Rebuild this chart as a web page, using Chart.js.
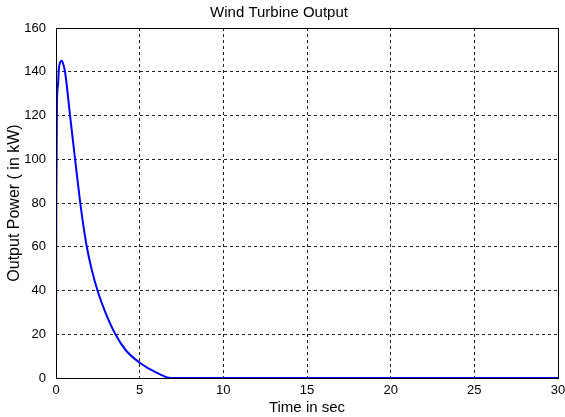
<!DOCTYPE html>
<html>
<head>
<meta charset="utf-8">
<title>Wind Turbine Output</title>
<script src="https://cdn.jsdelivr.net/npm/chart.js@4.4.1/dist/chart.umd.min.js"></script>
<style>
    html, body { margin: 0; padding: 0; background: #fff; }
    canvas { display: block; }
</style>
</head>
<body>
<canvas id="turbineChart" width="565" height="417"></canvas>
<script>
// turbine response after start-up, time in seconds vs. power in kW
const time  = [0, 0.02, 0.06, 0.12, 0.18, 0.34, 0.45, 0.54, 0.84, 1.14, 1.45, 1.63, 1.84, 2.12, 2.48, 2.95, 3.55, 4.16, 5.0, 6.07, 6.87, 30];
const power = [0, 82, 126, 134, 142, 145, 143, 140, 120, 100, 80, 70, 60, 50, 40, 30, 20, 12.8, 7, 2.2, 0, 0];

const xTicks = [0, 5, 10, 15, 20, 25, 30];
const yTicks = [0, 20, 40, 60, 80, 100, 120, 140, 160];

const FONT = 'Liberation Sans, Arial, Helvetica, sans-serif';

// interior grid only, the frame is drawn by boxPlugin
const gridColor = (ctx) => {
    const t = ctx.tick;
    if (!t) return 'rgba(0,0,0,0)';
    const ends = ctx.scale.axis === 'x' ? [0, 30] : [0, 160];
    return ends.includes(t.value) ? 'rgba(0,0,0,0)' : '#222';
};

const boxPlugin = {
    id: 'box',
    afterDraw(chart) {
        const { ctx, chartArea: a } = chart;
        ctx.save();
        ctx.strokeStyle = '#000';
        ctx.lineWidth = 1;
        ctx.strokeRect(Math.round(a.left) + 0.5, Math.round(a.top) + 0.5,
            Math.round(a.right - a.left), Math.round(a.bottom - a.top));
        ctx.restore();
    }
};

new Chart(document.getElementById('turbineChart'), {
    type: 'line',
    data: {
        datasets: [{
            data: time.map((t, i) => ({ x: t, y: power[i] })),
            borderColor: '#0000ff',
            borderWidth: 2,
            pointRadius: 0,
            fill: false,
            cubicInterpolationMode: 'monotone'
        }]
    },
    options: {
        responsive: false,
        animation: false,
        layout: { padding: { left: 0, right: 7, top: 0, bottom: 0 } },
        scales: {
            x: {
                type: 'linear',
                min: 0,
                max: 30,
                afterBuildTicks: (s) => { s.ticks = xTicks.map(v => ({ value: v })); },
                afterFit: (s) => { s.height = 39; s.paddingLeft = 0; s.paddingRight = 0; },
                border: { display: false, dash: [3, 3] },
                grid: { color: gridColor, lineWidth: 1, tickLength: 0, drawTicks: false },
                ticks: { color: '#000', font: { family: FONT, size: 13 }, padding: 5, maxRotation: 0, autoSkip: false },
                title: { display: true, text: 'Time in sec', color: '#000', font: { family: FONT, size: 15 }, padding: { top: 0, bottom: 0 } }
            },
            y: {
                min: 0,
                max: 160,
                afterBuildTicks: (s) => { s.ticks = yTicks.map(v => ({ value: v })); },
                afterFit: (s) => { s.width = 56; s.paddingTop = 0; s.paddingBottom = 0; },
                border: { display: false, dash: [3, 3] },
                grid: { color: gridColor, lineWidth: 1, tickLength: 0, drawTicks: false },
                ticks: { color: '#000', font: { family: FONT, size: 13 }, padding: 10, autoSkip: false },
                title: { display: true, text: 'Output Power ( in kW)', color: '#000', font: { family: FONT, size: 16 }, padding: { top: 5, bottom: 0 } }
            }
        },
        plugins: {
            legend: { display: false },
            tooltip: { enabled: false },
            title: {
                display: true,
                text: 'Wind Turbine Output',
                color: '#000',
                font: { family: FONT, size: 15, weight: 'normal' },
                padding: { top: 4, bottom: 6 }
            }
        }
    },
    plugins: [boxPlugin]
});
</script>
</body>
</html>
